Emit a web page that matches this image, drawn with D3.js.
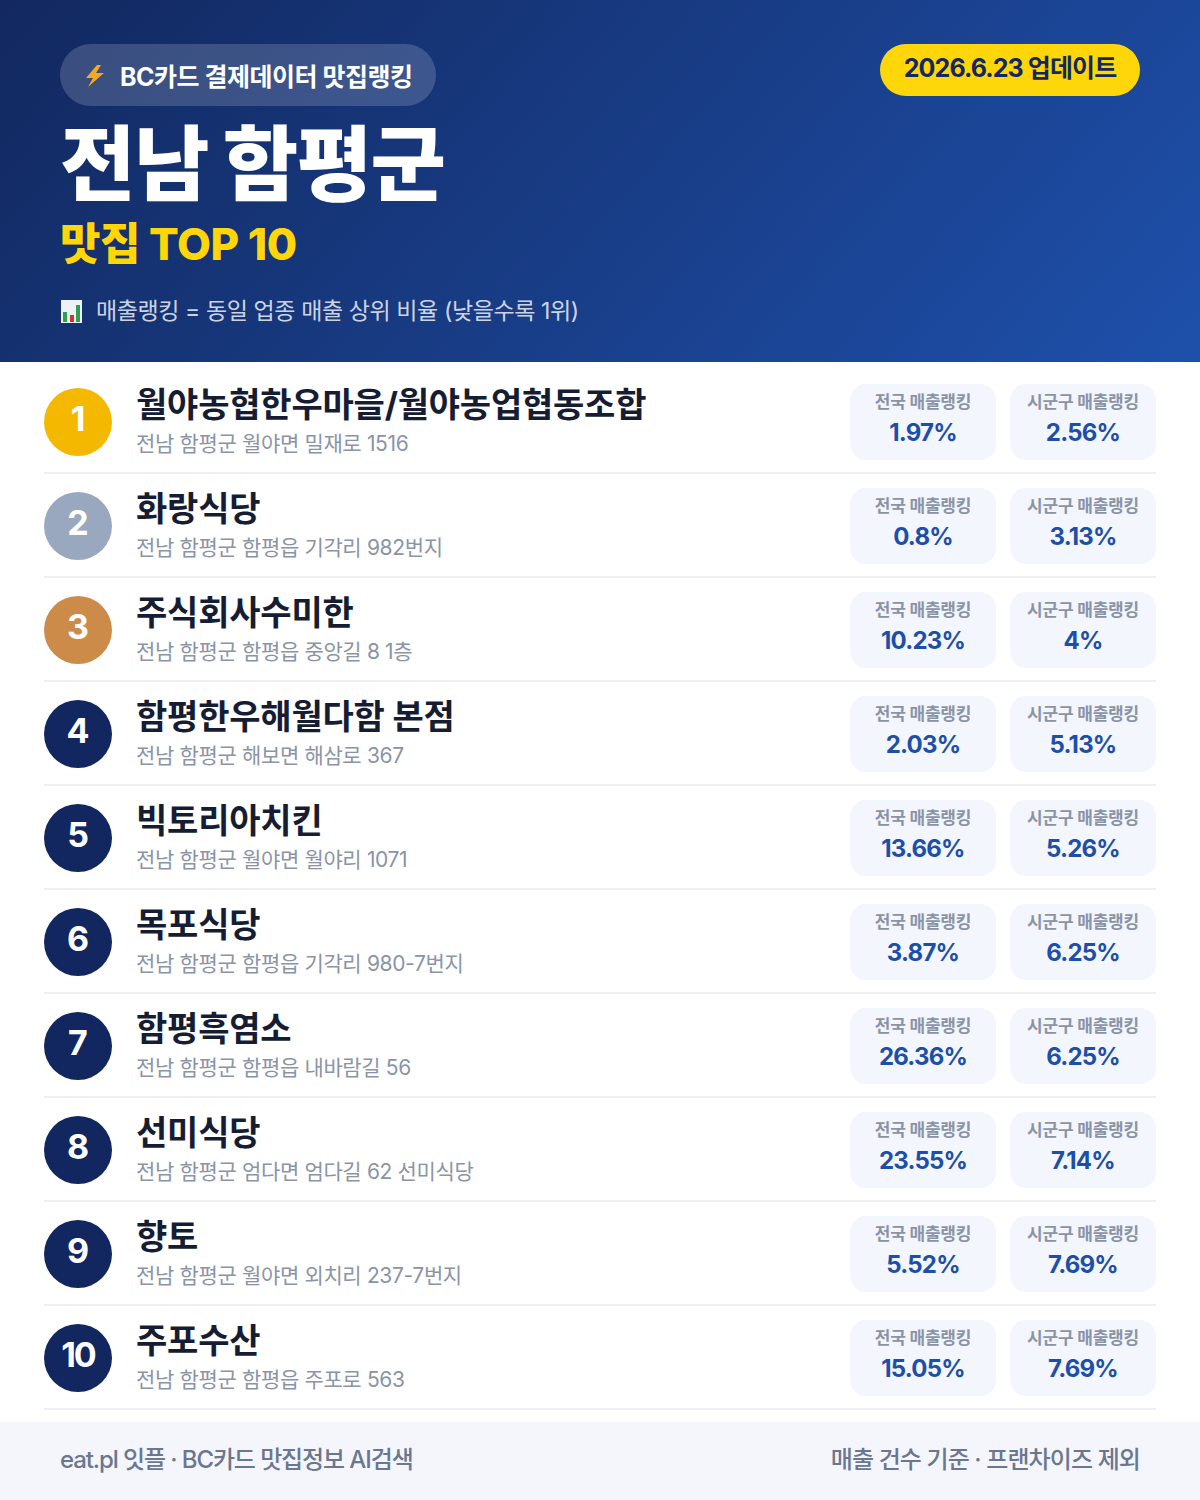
<!DOCTYPE html>
<html lang="ko">
<head>
<meta charset="utf-8">
<script src="https://cdn.jsdelivr.net/npm/d3@7"></script>
<style>
html, body { margin: 0; padding: 0; background: #fff; }
svg { display: block; }
text { font-family: Inter, "Noto Sans CJK KR", "Noto Sans", sans-serif; }
</style>
</head>
<body>
<svg id="chart"></svg>
<script>
const ranks = [1, 2, 3, 4, 5, 6, 7, 8, 9, 10];
const names = ["월야농협한우마을/월야농업협동조합", "화랑식당", "주식회사수미한", "함평한우해월다함 본점", "빅토리아치킨",
    "목포식당", "함평흑염소", "선미식당", "향토", "주포수산"];
const addresses = ["전남 함평군 월야면 밀재로 1516", "전남 함평군 함평읍 기각리 982번지", "전남 함평군 함평읍 중앙길 8 1층",
    "전남 함평군 해보면 해삼로 367", "전남 함평군 월야면 월야리 1071", "전남 함평군 함평읍 기각리 980-7번지",
    "전남 함평군 함평읍 내바람길 56", "전남 함평군 엄다면 엄다길 62 선미식당", "전남 함평군 월야면 외치리 237-7번지",
    "전남 함평군 함평읍 주포로 563"];
const nationalRank = [1.97, 0.8, 10.23, 2.03, 13.66, 3.87, 26.36, 23.55, 5.52, 15.05];
const localRank = [2.56, 3.13, 4, 5.13, 5.26, 6.25, 6.25, 7.14, 7.69, 7.69];
const pillLabels = ["전국 매출랭킹", "시군구 매출랭킹"];
const medalColors = ["#f5b800", "#9aa8bf", "#cd8b4a"];

const width = 1200, height = 1500;
const svg = d3.select("#chart").attr("width", width).attr("height", height).attr("viewBox", `0 0 ${width} ${height}`);

const defs = svg.append("defs");
const grad = defs.append("linearGradient").attr("id", "head")
    .attr("gradientUnits", "userSpaceOnUse")
    .attr("x1", 180).attr("y1", -200).attr("x2", 1020).attr("y2", 560);
grad.append("stop").attr("offset", 0).attr("stop-color", "#12285f");
grad.append("stop").attr("offset", 1).attr("stop-color", "#1e50ab");

function label(parent, x, y, str, size, weight, fill, anchor, spacing) {
    return parent.append("text")
        .attr("x", x).attr("y", y)
        .attr("font-size", size).attr("font-weight", weight)
        .attr("fill", fill)
        .attr("text-anchor", anchor || "start")
        .attr("letter-spacing", spacing || 0)
        .text(str);
}

// header
const head = svg.append("g");
head.append("rect").attr("width", width).attr("height", 362).attr("fill", "url(#head)");
head.append("rect").attr("x", 60).attr("y", 44).attr("width", 376).attr("height", 62).attr("rx", 31)
    .attr("fill", "#fff").attr("fill-opacity", 0.17);
head.append("path").attr("d", "M97 65 L86 78 L93 78 L88 87 L104 73 L96 73 L101 65 Z").attr("fill", "#f7a823");
label(head, 120, 86, "BC카드 결제데이터 맛집랭킹", 25, 700, "#fff", "start", -0.5);
head.append("rect").attr("x", 880).attr("y", 44).attr("width", 260).attr("height", 52).attr("rx", 26).attr("fill", "#ffd60a");
label(head, 1010, 77, "2026.6.23 업데이트", 25, 700, "#12285f", "middle", -0.9);
label(head, 60, 194, "전남 함평군", 82, 900, "#fff", "start", -1.5);
label(head, 60, 260, "맛집 TOP 10", 44, 800, "#ffd60a", "start", -0.5);

// small bar chart icon next to the note
head.append("rect").attr("x", 61).attr("y", 300).attr("width", 21).attr("height", 23).attr("fill", "#eef2f7");
head.append("rect").attr("x", 63).attr("y", 312).attr("width", 4).attr("height", 10).attr("fill", "#2e9e4f");
head.append("rect").attr("x", 70).attr("y", 315).attr("width", 4).attr("height", 7).attr("fill", "#d8322f");
head.append("rect").attr("x", 76).attr("y", 305).attr("width", 4).attr("height", 17).attr("fill", "#2e9e4f");
label(head, 96, 319, "매출랭킹 = 동일 업종 매출 상위 비율 (낮을수록 1위)", 23, 400, "#fff", "start", -0.4).attr("fill-opacity", 0.8);

// rows
const rowScale = d3.scaleBand().domain(ranks).range([370, 1410]);
const rows = svg.append("g").selectAll("g").data(ranks).join("g")
    .attr("transform", d => `translate(0,${rowScale(d)})`);

rows.append("line").attr("x1", 44).attr("x2", 1156).attr("y1", 103).attr("y2", 103)
    .attr("stroke", "#eef0f3").attr("stroke-width", 2);
rows.append("circle").attr("cx", 78).attr("cy", 52).attr("r", 34)
    .attr("fill", d => d <= 3 ? medalColors[d - 1] : "#12265f");
rows.append("text").attr("x", 78).attr("y", 61)
    .attr("text-anchor", "middle")
    .attr("font-size", 34).attr("font-weight", 700).attr("fill", "#fff")
    .attr("letter-spacing", d => d === 10 ? -2 : 0)
    .text(d => d);
rows.append("text").attr("x", 136).attr("y", 47)
    .attr("font-size", 34).attr("font-weight", 700).attr("fill", "#161d33").attr("letter-spacing", -0.2)
    .text((d, i) => names[i]);
rows.append("text").attr("x", 136).attr("y", 81)
    .attr("font-size", 21).attr("font-weight", 400).attr("fill", "#8a94a6").attr("letter-spacing", -0.35)
    .text((d, i) => addresses[i]);

const pillX = d3.scaleOrdinal().domain(pillLabels).range([850, 1010]);
pillLabels.forEach((name, k) => {
    const values = k === 0 ? nationalRank : localRank;
    const cx = pillX(name) + 73;
    rows.append("rect").attr("x", pillX(name)).attr("y", 14).attr("width", 146).attr("height", 76).attr("rx", 16)
        .attr("fill", "#f3f6fc");
    rows.append("text").attr("x", cx).attr("y", 38).attr("text-anchor", "middle")
        .attr("font-size", 17).attr("font-weight", 700).attr("fill", "#8a94a6").attr("letter-spacing", -0.2)
        .text(name);
    rows.append("text").attr("x", cx).attr("y", 71).attr("text-anchor", "middle")
        .attr("font-size", 24).attr("font-weight", 700).attr("fill", "#1e4fa8").attr("letter-spacing", -0.8)
        .text((d, i) => values[i] + "%");
});

// footer
const foot = svg.append("g");
foot.append("rect").attr("y", 1422).attr("width", width).attr("height", 78).attr("fill", "#f4f6fb");
label(foot, 60, 1468, "eat.pl 잇플 · BC카드 맛집정보 AI검색", 24, 500, "#6b7690", "start", -1.1);
label(foot, 1140, 1468, "매출 건수 기준 · 프랜차이즈 제외", 24, 500, "#6b7690", "end", -0.9);
</script>
</body>
</html>
